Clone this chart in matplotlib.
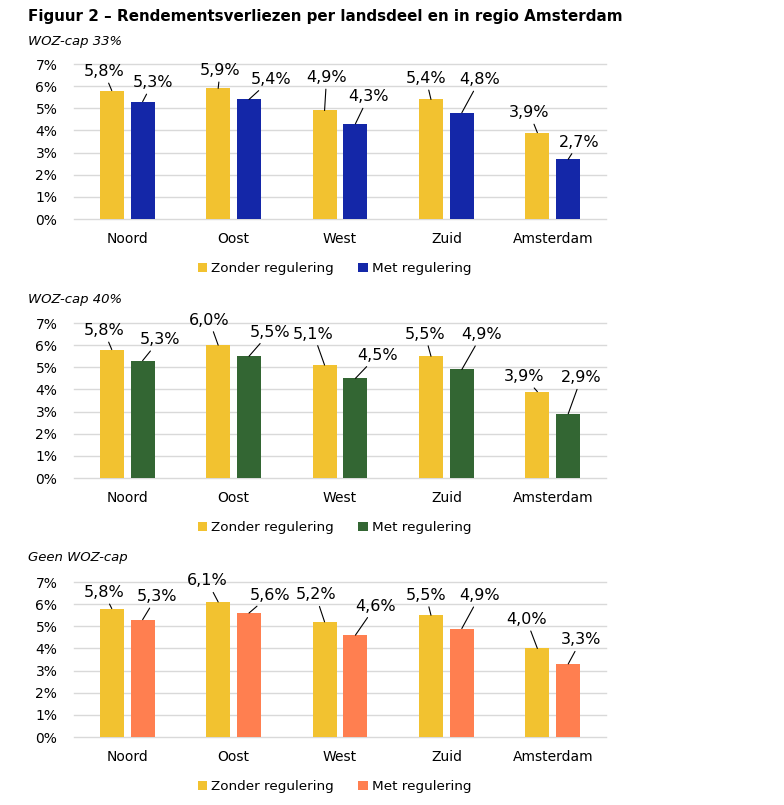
import matplotlib
matplotlib.use("Agg")
import matplotlib.pyplot as plt
import numpy as np

# Data
regions = ["Noord", "Oost", "West", "Zuid", "Amsterdam"]
panel_titles = ["WOZ-cap 33%", "WOZ-cap 40%", "Geen WOZ-cap"]
zonder = [
    [5.8, 5.9, 4.9, 5.4, 3.9],
    [5.8, 6.0, 5.1, 5.5, 3.9],
    [5.8, 6.1, 5.2, 5.5, 4.0],
]
met = [
    [5.3, 5.4, 4.3, 4.8, 2.7],
    [5.3, 5.5, 4.5, 4.9, 2.9],
    [5.3, 5.6, 4.6, 4.9, 3.3],
]
legend_labels = ["Zonder regulering", "Met regulering"]
title = "Figuur 2 \u2013 Rendementsverliezen per landsdeel en in regio Amsterdam"

# Styling
yellow = "#F2C230"
met_colors = ["#1427A8", "#336633", "#FF7F50"]
grid_color = "#D9D9D9"
plt.rcParams["font.family"] = "DejaVu Sans"

# label offsets (pixels) from bar top, per panel: (dx, dy)
zonder_off = [
    [(-8, 19), (2, 18), (2, 33), (-5, 21), (-8, 20)],
    [(-8, 19), (-9, 25), (-11, 31), (-6, 22), (-13, 15)],
    [(-8, 16), (-11, 21), (-9, 27), (-5, 20), (-11, 29)],
]
met_off = [
    [(10, 19), (22, 20), (13, 27), (18, 33), (11, 17)],
    [(17, 21), (21, 24), (22, 23), (20, 35), (13, 36)],
    [(14, 23), (21, 18), (20, 29), (18, 33), (13, 24)],
]

W, H = 784, 805
fig = plt.figure(figsize=(W / 100, H / 100), dpi=100)

fig.text(28 / W, 1 - 16 / H, title, fontsize=10.9, fontweight="bold",
         ha="left", va="center")

zero_y = [219, 478, 737]
sub_y = [41, 299, 557]
x = np.arange(len(regions))
bw = 0.225

for p in range(3):
    bottom = (H - zero_y[p]) / H
    ax = fig.add_axes([74 / W, bottom, 532 / W, 155 / H])
    fig.text(28 / W, 1 - sub_y[p] / H, panel_titles[p], fontsize=9.5,
             style="italic", ha="left", va="center")

    b1 = ax.bar(x - 0.145, zonder[p], width=bw, color=yellow, zorder=3,
                label=legend_labels[0])
    b2 = ax.bar(x + 0.145, met[p], width=bw, color=met_colors[p], zorder=3,
                label=legend_labels[1])

    for bars, vals, offs in ((b1, zonder[p], zonder_off[p]), (b2, met[p], met_off[p])):
        for rect, v, (dx, dy) in zip(bars, vals, offs):
            cx = rect.get_x() + rect.get_width() / 2
            ax.annotate(f"{v:.1f}%".replace(".", ","), xy=(cx, v),
                        xytext=(dx, dy), textcoords="offset pixels",
                        ha="center", va="center", fontsize=11.5,
                        arrowprops=dict(arrowstyle="-", color="black", lw=0.8,
                                        shrinkA=1, shrinkB=0),
                        annotation_clip=False, zorder=4)

    ax.set_xlim(-0.5, len(regions) - 0.5)
    ax.set_ylim(0, 7)
    ax.set_yticks(range(8))
    ax.set_yticklabels([f"{i}%" for i in range(8)])
    ax.set_xticks(x)
    ax.set_xticklabels(regions)
    ax.tick_params(length=0, labelsize=10, pad=12)
    ax.tick_params(axis="x", pad=9)
    ax.grid(axis="y", color=grid_color, lw=1, zorder=0)
    for gl in ax.get_ygridlines():
        gl.set_clip_on(False)
    for s in ax.spines.values():
        s.set_visible(False)

    ax.legend(loc="center", bbox_to_anchor=(0.49, -0.32), ncol=2, frameon=False,
              fontsize=9.7, handlelength=0.7, handleheight=0.7, handletextpad=0.3,
              columnspacing=1.8)

fig.savefig("out.png", dpi=100)
